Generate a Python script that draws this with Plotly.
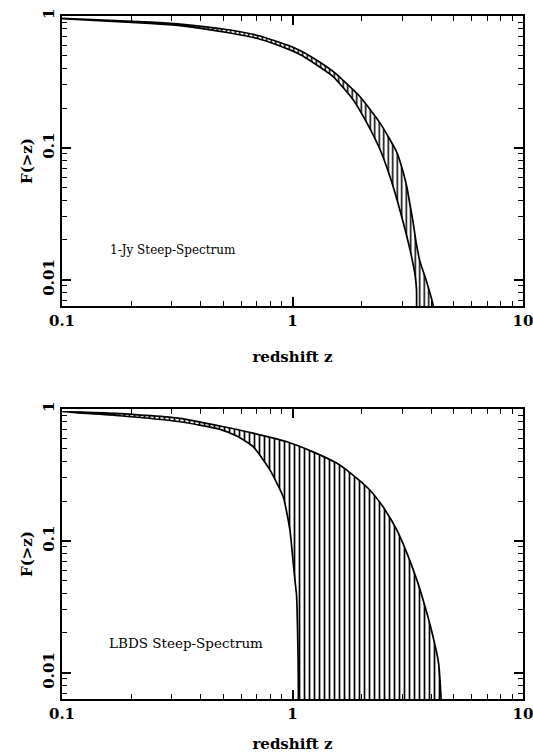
import plotly.graph_objects as go

# ---- data ----
# Top panel: 1-Jy Steep-Spectrum
top_upper_z = [0.1, 0.241, 0.325, 0.536, 0.723, 0.975, 1.078, 1.19, 1.5, 1.96, 2.40, 2.841, 3.017, 3.139, 3.234, 3.333, 3.434, 3.574, 3.795, 4.07, 4.2]
top_upper_F = [0.96, 0.90, 0.868, 0.783, 0.705, 0.592, 0.547, 0.498, 0.380, 0.245, 0.154, 0.0917, 0.0658, 0.0498, 0.0370, 0.0275, 0.0194, 0.0137, 0.0100, 0.00647, 0.0045]
top_lower_z = [0.1, 0.241, 0.325, 0.536, 0.723, 0.975, 1.078, 1.19, 1.5, 1.836, 2.105, 2.40, 2.649, 2.841, 3.017, 3.234, 3.400, 3.451, 3.455, 3.456]
top_lower_F = [0.955, 0.88, 0.845, 0.743, 0.666, 0.553, 0.511, 0.460, 0.347, 0.231, 0.154, 0.0967, 0.0603, 0.0404, 0.0275, 0.0169, 0.0109, 0.0084, 0.0059, 0.0045]

# Bottom panel: LBDS Steep-Spectrum
bot_upper_z = [0.1, 0.1785, 0.325, 0.485, 0.674, 0.946, 1.227, 1.560, 1.830, 2.169, 2.470, 2.841, 3.139, 3.468, 3.627, 3.990, 4.299, 4.417, 4.45]
bot_upper_F = [0.954, 0.924, 0.85, 0.743, 0.657, 0.564, 0.473, 0.387, 0.315, 0.242, 0.181, 0.120, 0.0804, 0.0501, 0.0392, 0.0216, 0.0119, 0.0062, 0.0045]
bot_lower_z = [0.1, 0.1785, 0.325, 0.485, 0.573, 0.676, 0.799, 0.912, 0.975, 1.008, 1.025, 1.041, 1.058, 1.061, 1.062]
bot_lower_F = [0.954, 0.889, 0.80, 0.701, 0.623, 0.517, 0.344, 0.215, 0.120, 0.0671, 0.050, 0.039, 0.0119, 0.0062, 0.0045]

x_tickvals = [0.1, 1, 10]
x_ticktext = ["0.1", "1", "10"]
x_minor = [0.2, 0.3, 0.4, 0.5, 0.6, 0.7, 0.8, 0.9, 2, 3, 4, 5, 6, 7, 8, 9]
y_tickvals = [0.01, 0.1, 1]
y_ticktext = ["0.01", "0.1", "1"]
y_minor = [0.007, 0.008, 0.009, 0.02, 0.03, 0.04, 0.05, 0.06, 0.07, 0.08, 0.09,
           0.2, 0.3, 0.4, 0.5, 0.6, 0.7, 0.8, 0.9]

labels = ["1-Jy Steep-Spectrum", "LBDS Steep-Spectrum"]

FONT = "DejaVu Serif"
W, H = 533, 753

fig = go.Figure()

def band(uz, uF, lz, lF, xa, ya, size):
    fig.add_trace(go.Scatter(
        x=list(uz) + list(reversed(lz)),
        y=list(uF) + list(reversed(lF)),
        mode="lines", fill="toself", fillcolor="white",
        fillpattern=dict(shape="|", size=size, solidity=0.34,
                         fgcolor="black", bgcolor="white"),
        line=dict(color="black", width=1.7, shape="spline", smoothing=0.5),
        xaxis=xa, yaxis=ya, showlegend=False, hoverinfo="skip"))

band(top_upper_z, top_upper_F, top_lower_z, top_lower_F, "x", "y", 4.5)
band(bot_upper_z, bot_upper_F, bot_lower_z, bot_lower_F, "x2", "y2", 5)

# empty traces so the mirrored (top / right) tick axes are drawn
fig.add_trace(go.Scatter(x=[], y=[], xaxis="x3", yaxis="y3", showlegend=False))
fig.add_trace(go.Scatter(x=[], y=[], xaxis="x4", yaxis="y4", showlegend=False))

tickfont = dict(family=FONT, size=15, color="black", weight="bold")
titlefont = dict(family=FONT, size=15, color="black", weight="bold")

def common(kind):
    d = dict(showline=True, linewidth=2, linecolor="black",
             ticks="inside", ticklen=9, tickwidth=1.5, tickcolor="black",
             tickmode="array", ticklabeloverflow="allow",
             showgrid=False, zeroline=False, automargin=False)
    if kind == "x":
        d.update(type="log", range=[-1, 1], tickvals=x_tickvals, ticktext=x_ticktext,
                 minor=dict(ticks="inside", ticklen=5, tickwidth=1.2, tickcolor="black",
                            tickmode="array", tickvals=x_minor, showgrid=False))
    else:
        d.update(type="log", range=[-2.2, 0], tickvals=y_tickvals, ticktext=y_ticktext,
                 minor=dict(ticks="inside", ticklen=5, tickwidth=1.2, tickcolor="black",
                            tickmode="array", tickvals=y_minor, showgrid=False))
    return d

def xax(domain, anchor):
    d = common("x")
    d.update(domain=domain, anchor=anchor, tickfont=tickfont,
             title=dict(text="redshift z", standoff=22, font=titlefont))
    return d

def yax(domain, anchor):
    d = common("y")
    d.update(domain=domain, anchor=anchor, tickangle=-90, tickfont=tickfont,
             title=dict(text="F(>z)", standoff=4, font=titlefont))
    return d

def xmirror(over, anchor):
    d = common("x")
    d.update(overlaying=over, side="top", anchor=anchor, showticklabels=False)
    return d

def ymirror(over, anchor):
    d = common("y")
    d.update(overlaying=over, side="right", anchor=anchor, showticklabels=False)
    return d

xd = [62 / W, 523 / W]
fig.update_layout(
    width=W, height=H, template="none",
    margin=dict(l=0, r=0, t=0, b=0, autoexpand=False),
    paper_bgcolor="white", plot_bgcolor="white",
    xaxis=xax(xd, "y"),
    yaxis=yax([1 - 306 / H, 1 - 16 / H], "x"),
    xaxis2=xax(xd, "y2"),
    yaxis2=yax([1 - 699 / H, 1 - 409 / H], "x2"),
    xaxis3=xmirror("x", "y"),
    yaxis3=ymirror("y", "x"),
    xaxis4=xmirror("x2", "y2"),
    yaxis4=ymirror("y2", "x2"),
    annotations=[
        dict(text=labels[0], xref="x domain", yref="y domain", x=0.1, y=0.193,
             xanchor="left", yanchor="middle", showarrow=False,
             font=dict(family=FONT, size=12, color="black")),
        dict(text=labels[1], xref="x2 domain", yref="y2 domain", x=0.098, y=0.194,
             xanchor="left", yanchor="middle", showarrow=False,
             font=dict(family=FONT, size=13.5, color="black")),
    ],
)

fig.write_html("out.html")
